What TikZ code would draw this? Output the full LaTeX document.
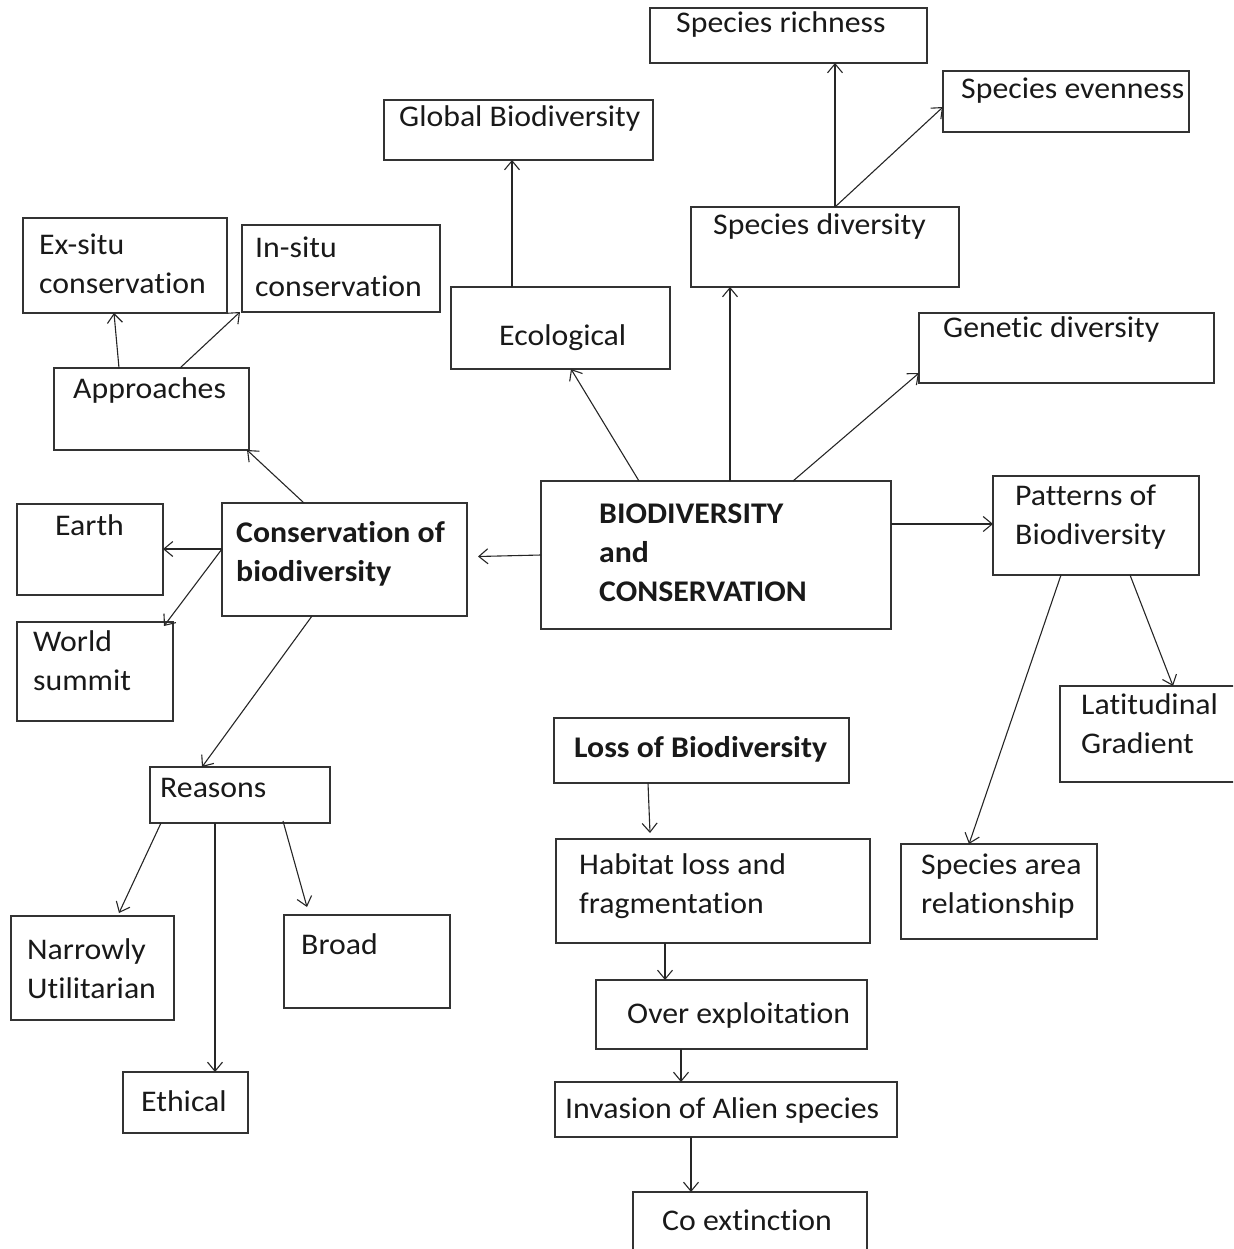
\documentclass[tikz,border=0pt]{standalone}
\usepackage{fontspec}
\setmainfont{Carlito}[FakeStretch=1.06,Ligatures=NoCommon]
\usetikzlibrary{arrows.meta}

\begin{document}
\begin{tikzpicture}[x=1pt,y=-1pt,
        cbox/.style={draw=black!80,line width=1.3pt,inner sep=0pt,outer sep=0pt,anchor=north west},
        ctxt/.style={anchor=base west,inner sep=0pt,align=left,text=black!90},
        arr/.style={-{Straight Barb[length=9pt,width=15pt]},line width=1.1pt,draw=black!85}]
            \fontsize{30}{39}\selectfont
            \clip (0,0) rectangle (1233,1249);

            \node[cbox,minimum width=277pt,minimum height=55pt] (rich) at (650,8) {};
            \node[ctxt] (rich-t) at (676,33) {Species richness};
            \node[cbox,minimum width=246pt,minimum height=61pt] (even) at (943,71) {};
            \node[ctxt] (even-t) at (961,99) {Species evenness};
            \node[cbox,minimum width=269pt,minimum height=60pt] (glob) at (384,100) {};
            \node[ctxt] (glob-t) at (399,127) {Global Biodiversity};
            \node[cbox,minimum width=268pt,minimum height=80pt] (spdiv) at (691,207) {};
            \node[ctxt] (spdiv-t) at (713,235) {Species diversity};
            \node[cbox,minimum width=204pt,minimum height=95pt] (exsitu) at (23,218) {};
            \node[ctxt] (exsitu-t) at (39,293) {Ex-situ\\conservation};
            \node[cbox,minimum width=198pt,minimum height=87pt] (insitu) at (242,225) {};
            \node[ctxt] (insitu-t) at (255,296) {In-situ\\conservation};
            \node[cbox,minimum width=219pt,minimum height=82pt] (ecol) at (451,287) {};
            \node[ctxt] (ecol-t) at (499,345) {Ecological};
            \node[cbox,minimum width=295pt,minimum height=70pt] (genet) at (919,313) {};
            \node[ctxt] (genet-t) at (943,337) {Genetic diversity};
            \node[cbox,minimum width=195pt,minimum height=82pt] (appr) at (54,368) {};
            \node[ctxt] (appr-t) at (73,398) {Approaches};

            \node[cbox,minimum width=350pt,minimum height=148pt] (bio) at (541,481) {};
            \node[ctxt,font=\bfseries] (bio-t) at (599,601) {BIODIVERSITY\\and\\CONSERVATION};
            \node[cbox,minimum width=206pt,minimum height=99pt] (patt) at (993,476) {};
            \node[ctxt] (patt-t) at (1015,544) {Patterns of\\Biodiversity};
            \node[cbox,minimum width=146pt,minimum height=91pt] (earth) at (17,504) {};
            \node[ctxt] (earth-t) at (55,535) {Earth};
            \node[cbox,minimum width=245pt,minimum height=113pt] (cons) at (222,503) {};
            \node[ctxt,font=\bfseries] (cons-t) at (236,581) {Conservation of\\biodiversity};
            \node[cbox,minimum width=156pt,minimum height=99pt] (world) at (17,622) {};
            \node[ctxt] (world-t) at (33,690) {World\\summit};
            \node[cbox,minimum width=200pt,minimum height=96pt] (latit) at (1060,686) {};
            \node[ctxt] (latit-t) at (1081,753) {Latitudinal\\Gradient};
            \node[cbox,minimum width=295pt,minimum height=65pt] (loss) at (554,718) {};
            \node[ctxt,font=\bfseries] (loss-t) at (574,757) {Loss of Biodiversity};
            \node[cbox,minimum width=180pt,minimum height=56pt] (reas) at (150,767) {};
            \node[ctxt] (reas-t) at (160,797) {Reasons};

            \node[cbox,minimum width=314pt,minimum height=104pt] (habit) at (556,839) {};
            \node[ctxt] (habit-t) at (579,913) {Habitat loss and\\fragmentation};
            \node[cbox,minimum width=196pt,minimum height=95pt] (sparea) at (901,844) {};
            \node[ctxt] (sparea-t) at (921,913) {Species area\\relationship};
            \node[cbox,minimum width=163pt,minimum height=104pt] (narrow) at (11,916) {};
            \node[ctxt] (narrow-t) at (27,998) {Narrowly\\Utilitarian};
            \node[cbox,minimum width=166pt,minimum height=93pt] (broad) at (284,915) {};
            \node[ctxt] (broad-t) at (301,954) {Broad};
            \node[cbox,minimum width=271pt,minimum height=69pt] (over) at (596,980) {};
            \node[ctxt] (over-t) at (627,1023) {Over exploitation};
            \node[cbox,minimum width=125pt,minimum height=61pt] (ethic) at (123,1072) {};
            \node[ctxt] (ethic-t) at (141,1111) {Ethical};
            \node[cbox,minimum width=342pt,minimum height=55pt] (invas) at (555,1082) {};
            \node[ctxt] (invas-t) at (565,1118) {Invasion of Alien species};
            \node[cbox,minimum width=234pt,minimum height=80pt] (coext) at (633,1192) {};
            \node[ctxt] (coext-t) at (662,1230) {Co extinction};

            \draw[arr] ([xshift=144pt]spdiv.north west) -- ([xshift=185pt]rich.south west);
            \draw[arr] ([xshift=144pt]spdiv.north west) -- ([yshift=25pt]even.south west);
            \draw[arr] ([xshift=61pt]ecol.north west) -- ([xshift=128pt]glob.south west);
            \draw[arr] ([xshift=65pt]appr.north west) -- ([xshift=91pt]exsitu.south west);
            \draw[arr] ([xshift=126pt]appr.north west) -- ([xshift=-2pt]insitu.south west);

            \draw[arr] ([xshift=98pt]bio.north west) -- ([xshift=120pt]ecol.south west);
            \draw[arr] ([xshift=189pt]bio.north west) -- ([xshift=39pt]spdiv.south west);
            \draw[arr] ([xshift=252pt]bio.north west) -- ([yshift=10pt]genet.south west);
            \draw[arr] (bio.west) -- ([xshift=11pt,yshift=3pt]cons.east);
            \draw[arr] ([yshift=-43pt]bio.north east) -- ([yshift=-48pt]patt.north west);

            \draw[arr] ([xshift=82pt]cons.north west) -- ([xshift=-2pt]appr.south east);
            \draw[arr] ([yshift=-46pt]cons.north west) -- ([yshift=-45pt]earth.north east);
            \draw[arr] ([yshift=-46pt]cons.north west) -- ([xshift=-9pt,yshift=-4pt]world.north east);
            \draw[arr] ([xshift=90pt]cons.south west) -- ([xshift=52pt]reas.north west);

            \draw[arr] ([xshift=68pt]patt.south west) -- ([xshift=68pt]sparea.north west);
            \draw[arr] ([xshift=137pt]patt.south west) -- ([xshift=113pt]latit.north west);

            \draw[arr] ([xshift=11pt]reas.south west) -- ([xshift=108pt,yshift=3pt]narrow.north west);
            \draw[arr] ([xshift=65pt]reas.south west) -- ([xshift=92pt]ethic.north west);
            \draw[arr] ([xshift=133pt,yshift=2pt]reas.south west) -- ([xshift=23pt,yshift=8pt]broad.north west);

            \draw[arr] ([xshift=94pt]loss.south west) -- ([xshift=94pt,yshift=6pt]habit.north west);
            \draw[arr] ([xshift=109pt]habit.south west) -- ([xshift=69pt]over.north west);
            \draw[arr] ([xshift=85pt]over.south west) -- ([xshift=126pt]invas.north west);
            \draw[arr] ([xshift=136pt]invas.south west) -- ([xshift=58pt]coext.north west);
\end{tikzpicture}
\end{document}
